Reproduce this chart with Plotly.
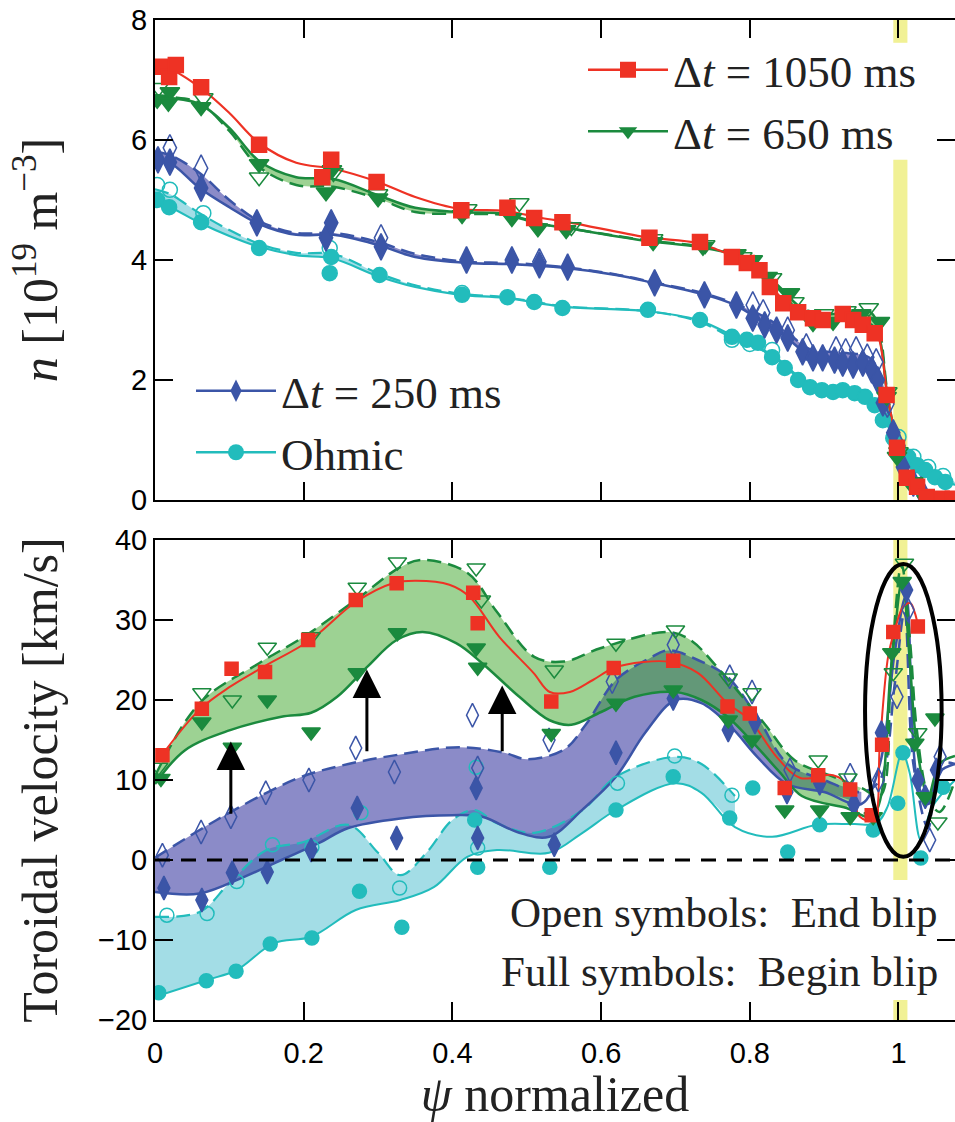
import plotly.graph_objects as go

# ---------------- colours ----------------
RED = "#ee3224"
GREEN = "#1b8a3e"
BLUE = "#3b55a7"
CYAN = "#22bcbc"
GREEN_FILL = "rgba(60,165,40,0.5)"
BLUE_FILL = "rgba(55,55,160,0.58)"
CYAN_FILL = "rgba(50,180,200,0.45)"

# ================= TOP PANEL: density n [1e19 m^-3] =================
# markers
n_red_x = [0.009, 0.019, 0.028, 0.062, 0.14, 0.225, 0.237, 0.298, 0.412, 0.474, 0.51, 0.548, 0.665, 0.733, 0.776, 0.796, 0.813, 0.827, 0.845, 0.865, 0.885, 0.898, 0.925, 0.939, 0.952, 0.968, 0.984, 0.998, 1.011, 1.025, 1.038, 1.058, 1.073]
n_red_y = [7.22, 7.05, 7.25, 6.88, 5.92, 5.38, 5.67, 5.3, 4.83, 4.87, 4.7, 4.63, 4.37, 4.3, 4.05, 3.95, 3.83, 3.55, 3.28, 3.13, 3.03, 3.0, 3.1, 3.0, 2.92, 2.78, 1.75, 0.87, 0.37, 0.22, 0.05, 0.02, 0.02]

n_grn_full_x = [0.003, 0.02, 0.018, 0.062, 0.14, 0.23, 0.238, 0.30, 0.413, 0.48, 0.515, 0.553, 0.67, 0.737, 0.782, 0.804, 0.824, 0.854, 0.885, 0.912, 0.95, 0.975, 0.984, 0.998, 1.016, 1.038, 1.052]
n_grn_full_y = [6.67, 6.8, 6.62, 6.55, 5.6, 5.13, 5.5, 5.03, 4.75, 4.7, 4.53, 4.5, 4.3, 4.22, 4.1, 4.0, 3.72, 3.45, 2.95, 2.97, 3.1, 2.97, 1.72, 0.72, 0.28, 0.0, 0.0]
n_grn_open_x = [0.005, 0.065, 0.14, 0.24, 0.30, 0.42, 0.49, 0.56, 0.67, 0.74, 0.79, 0.83, 0.86, 0.9, 0.93, 0.96, 0.985, 1.0, 1.02, 1.04]
n_grn_open_y = [6.87, 6.7, 5.38, 5.45, 5.1, 4.85, 4.95, 4.55, 4.35, 4.25, 4.05, 3.7, 3.3, 3.1, 3.15, 3.2, 1.8, 0.8, 0.3, 0.05]

n_blu_full_x = [0.004, 0.02, 0.062, 0.137, 0.23, 0.237, 0.304, 0.419, 0.48, 0.517, 0.555, 0.672, 0.739, 0.782, 0.804, 0.82, 0.836, 0.851, 0.871, 0.885, 0.898, 0.914, 0.925, 0.939, 0.952, 0.964, 0.972, 0.979, 0.993, 1.006, 1.02, 1.03]
n_blu_full_y = [5.67, 5.63, 5.2, 4.62, 4.37, 4.62, 4.22, 4.0, 4.0, 3.92, 3.88, 3.62, 3.42, 3.25, 3.03, 2.92, 2.83, 2.7, 2.47, 2.37, 2.37, 2.33, 2.28, 2.25, 2.28, 2.17, 2.0, 1.62, 1.12, 0.55, 0.28, 0.17]
n_blu_open_x = [0.02, 0.062, 0.304, 0.517, 0.804, 0.818, 0.851, 0.876, 0.916, 0.929, 0.943, 0.958, 0.97, 0.985, 1.0]
n_blu_open_y = [5.87, 5.53, 4.37, 3.97, 3.25, 3.12, 2.83, 2.55, 2.5, 2.47, 2.5, 2.38, 2.3, 1.6, 0.9]

n_cyn_full_x = [0.003, 0.019, 0.062, 0.14, 0.237, 0.235, 0.302, 0.413, 0.474, 0.51, 0.548, 0.663, 0.733, 0.776, 0.796, 0.811, 0.83, 0.847, 0.865, 0.881, 0.897, 0.912, 0.925, 0.941, 0.955, 0.968, 0.979, 0.993, 0.998, 1.013, 1.025, 1.036, 1.049, 1.063]
n_cyn_full_y = [5.0, 4.88, 4.63, 4.2, 4.05, 3.78, 3.75, 3.42, 3.38, 3.3, 3.2, 3.17, 3.0, 2.72, 2.67, 2.62, 2.38, 2.2, 2.0, 1.88, 1.83, 1.8, 1.83, 1.78, 1.72, 1.58, 1.33, 1.03, 0.92, 0.72, 0.58, 0.5, 0.38, 0.3]
n_cyn_open_x = [0.003, 0.02, 0.065, 0.235, 0.413, 0.776, 0.8, 0.83, 1.0, 1.02, 1.04, 1.06]
n_cyn_open_y = [5.25, 5.17, 4.78, 4.2, 3.45, 2.67, 2.6, 2.5, 1.05, 0.72, 0.55, 0.4]

# fitted profiles (top)
n_red_fit_x = [0.0, 0.02, 0.06, 0.1, 0.14, 0.19, 0.24, 0.3, 0.35, 0.41, 0.47, 0.52, 0.56, 0.66, 0.73, 0.78, 0.81, 0.84, 0.87, 0.9, 0.93, 0.96, 0.972, 0.985, 1.0, 1.012, 1.025, 1.04, 1.076]
n_red_fit_y = [7.2, 7.18, 6.88, 6.45, 5.95, 5.62, 5.52, 5.3, 5.05, 4.85, 4.82, 4.7, 4.62, 4.38, 4.28, 4.05, 3.85, 3.4, 3.1, 3.0, 3.05, 2.9, 2.75, 1.75, 0.85, 0.37, 0.2, 0.05, 0.0]

n_grn_fit_x = [0.0, 0.02, 0.06, 0.1, 0.14, 0.19, 0.24, 0.3, 0.35, 0.41, 0.47, 0.52, 0.56, 0.66, 0.73, 0.78, 0.81, 0.84, 0.87, 0.9, 0.93, 0.96, 0.972, 0.985, 1.0, 1.015, 1.03, 1.05, 1.076]
n_grn_fit_full = [6.72, 6.7, 6.6, 6.2, 5.65, 5.38, 5.35, 5.08, 4.87, 4.8, 4.77, 4.6, 4.52, 4.32, 4.22, 4.08, 3.85, 3.5, 3.1, 3.0, 3.02, 2.95, 2.8, 1.75, 0.75, 0.28, 0.05, 0.0, 0.0]
n_grn_fit_open = [6.75, 6.72, 6.62, 6.15, 5.55, 5.25, 5.22, 5.02, 4.8, 4.77, 4.75, 4.6, 4.52, 4.33, 4.23, 4.1, 3.9, 3.55, 3.2, 3.1, 3.12, 3.15, 2.95, 1.8, 0.8, 0.3, 0.07, 0.0, 0.0]

n_blu_fit_x = [0.0, 0.02, 0.06, 0.1, 0.14, 0.19, 0.24, 0.3, 0.35, 0.42, 0.48, 0.55, 0.62, 0.67, 0.74, 0.78, 0.82, 0.85, 0.88, 0.93, 0.96, 0.975, 0.99, 1.005, 1.02, 1.04, 1.076]
n_blu_fit_full = [5.65, 5.62, 5.2, 4.88, 4.6, 4.42, 4.42, 4.25, 4.05, 3.95, 3.93, 3.87, 3.75, 3.62, 3.42, 3.25, 2.95, 2.7, 2.42, 2.3, 2.2, 1.95, 1.2, 0.55, 0.3, 0.12, 0.05]
n_blu_fit_open = [5.8, 5.75, 5.45, 5.0, 4.65, 4.45, 4.45, 4.3, 4.1, 3.97, 3.95, 3.88, 3.76, 3.63, 3.44, 3.27, 3.05, 2.8, 2.52, 2.45, 2.38, 2.1, 1.3, 0.6, 0.32, 0.12, 0.05]

n_cyn_fit_x = [0.0, 0.02, 0.06, 0.1, 0.14, 0.19, 0.24, 0.3, 0.35, 0.41, 0.47, 0.55, 0.66, 0.73, 0.78, 0.83, 0.87, 0.9, 0.95, 0.97, 0.985, 1.0, 1.02, 1.04, 1.06, 1.076]
n_cyn_fit_full = [4.95, 4.88, 4.62, 4.4, 4.22, 4.08, 4.02, 3.73, 3.55, 3.42, 3.37, 3.22, 3.15, 3.0, 2.72, 2.4, 2.0, 1.85, 1.75, 1.6, 1.25, 0.92, 0.65, 0.47, 0.34, 0.25]
n_cyn_fit_open = [5.18, 5.1, 4.78, 4.5, 4.27, 4.12, 4.1, 3.78, 3.58, 3.44, 3.38, 3.23, 3.15, 2.98, 2.68, 2.42, 2.02, 1.86, 1.76, 1.62, 1.3, 1.0, 0.72, 0.55, 0.4, 0.3]

# ================= BOTTOM PANEL: toroidal velocity [km/s] =================
v_red_x = [0.01, 0.063, 0.103, 0.148, 0.206, 0.27, 0.325, 0.428, 0.434, 0.533, 0.617, 0.697, 0.77, 0.8, 0.847, 0.892, 0.935, 0.964, 0.978, 0.993, 1.026]
v_red_y = [13.1, 18.9, 23.9, 23.5, 27.5, 32.5, 34.6, 33.4, 29.6, 19.8, 24.0, 24.9, 19.2, 18.3, 9.0, 10.6, 8.8, 5.6, 14.4, 28.5, 29.2]

v_grn_full_x = [0.008, 0.063, 0.104, 0.151, 0.21, 0.272, 0.326, 0.432, 0.434, 0.533, 0.62, 0.697, 0.771, 0.803, 0.847, 0.894, 0.935, 0.966, 0.991, 1.005, 1.022, 1.036, 1.049]
v_grn_full_y = [10.2, 17.25, 14.1, 20.0, 16.0, 23.4, 28.4, 26.5, 24.1, 15.8, 19.6, 21.25, 17.5, 15.0, 6.25, 6.25, 5.4, 5.4, 25.9, 34.8, 14.6, 7.9, 17.75]
v_grn_open_x = [0.005, 0.063, 0.104, 0.151, 0.21, 0.272, 0.326, 0.432, 0.439, 0.537, 0.62, 0.7, 0.771, 0.803, 0.892, 0.932, 0.993, 1.008, 1.026, 1.053]
v_grn_open_y = [11.6, 20.9, 20.0, 26.6, 27.9, 34.1, 37.25, 36.5, 32.5, 23.75, 27.1, 28.75, 22.75, 20.9, 12.5, 10.25, 23.4, 37.1, 15.9, 4.75]

v_blu_full_x = [0.012, 0.063, 0.104, 0.151, 0.21, 0.272, 0.325, 0.432, 0.434, 0.537, 0.62, 0.697, 0.771, 0.807, 0.85, 0.894, 0.94, 0.977, 1.011, 1.026, 1.036, 1.051]
v_blu_full_y = [-3.5, -5.0, -1.6, -1.5, 1.25, 6.5, 2.75, 9.0, 2.75, 1.9, 13.4, 20.2, 16.25, 17.25, 8.5, 9.6, 7.0, 15.9, 33.75, 10.0, 7.9, 11.25]
v_blu_open_x = [0.01, 0.062, 0.102, 0.149, 0.207, 0.27, 0.322, 0.427, 0.434, 0.53, 0.615, 0.697, 0.773, 0.803, 0.854, 0.935, 0.973, 0.998, 1.013, 1.042, 1.056]
v_blu_open_y = [0.6, 3.5, 5.4, 8.4, 10.0, 14.0, 11.0, 18.1, 11.5, 15.0, 22.3, 26.9, 22.9, 21.0, 11.25, 10.6, 10.0, 20.4, 31.25, 2.5, 12.9]

v_cyn_full_x = [0.005, 0.069, 0.109, 0.155, 0.211, 0.275, 0.332, 0.43, 0.434, 0.531, 0.62, 0.697, 0.773, 0.804, 0.851, 0.894, 0.966, 0.999, 1.006, 1.03, 1.06]
v_cyn_full_y = [-16.6, -15.1, -13.9, -10.5, -9.75, -3.9, -8.4, 5.0, -0.9, -0.9, 6.25, 10.4, 5.25, 9.0, 1.0, 4.4, 3.75, 7.1, 13.4, 0.25, 9.1]
v_cyn_open_x = [0.016, 0.07, 0.11, 0.158, 0.211, 0.277, 0.329, 0.434, 0.432, 0.622, 0.699, 0.776]
v_cyn_open_y = [-6.9, -6.7, -2.7, 1.9, 1.6, 5.9, -3.5, 1.5, 11.6, 9.6, 13.0, 8.1]

# fitted profiles (bottom)
v_red_fit_x = [0.01, 0.06, 0.1, 0.145, 0.209, 0.27, 0.32, 0.351, 0.396, 0.423, 0.463, 0.509, 0.531, 0.558, 0.589, 0.617, 0.657, 0.693, 0.73, 0.77, 0.8, 0.836, 0.868, 0.912, 0.935, 0.948, 0.966, 0.975, 0.986, 0.995, 1.006, 1.016, 1.022, 1.026]
v_red_fit_y = [13.2, 18.8, 21.6, 24.1, 27.5, 32.25, 34.6, 34.9, 34.4, 32.9, 27.9, 23.4, 21.0, 21.0, 22.5, 24.0, 24.75, 24.75, 23.4, 19.6, 17.5, 12.9, 10.25, 10.6, 9.1, 5.4, 5.0, 14.6, 25.4, 28.75, 31.6, 32.1, 30.9, 29.4]

v_grn_open_fit_x = [0.0, 0.06, 0.14, 0.2, 0.27, 0.33, 0.36, 0.42, 0.46, 0.51, 0.55, 0.6, 0.69, 0.72, 0.76, 0.82, 0.86, 0.91, 0.95, 0.975, 0.99, 1.004, 1.015, 1.025, 1.04, 1.055, 1.076]
v_grn_open_fit_y = [10.5, 19.6, 24.6, 27.9, 32.5, 36.6, 37.5, 35.9, 31.0, 25.4, 24.8, 26.5, 28.5, 27.5, 23.7, 17.0, 12.5, 10.5, 9.0, 8.0, 24.0, 37.0, 28.0, 16.0, 8.0, 6.0, 10.0]
v_grn_full_fit_x = [0.0, 0.04, 0.1, 0.17, 0.21, 0.245, 0.285, 0.325, 0.36, 0.405, 0.44, 0.49, 0.53, 0.56, 0.6, 0.645, 0.7, 0.735, 0.77, 0.805, 0.84, 0.87, 0.93, 0.965, 0.99, 1.005, 1.015, 1.025, 1.04, 1.055, 1.076]
v_grn_full_fit_y = [9.5, 13.7, 16.2, 17.9, 18.4, 20.4, 24.1, 27.5, 28.5, 27.1, 24.6, 20.4, 17.5, 16.9, 18.5, 20.4, 21.0, 20.0, 17.9, 14.6, 11.0, 8.0, 6.5, 5.5, 24.0, 35.0, 25.0, 14.0, 8.0, 12.0, 13.0]

v_blu_open_fit_x = [0.0, 0.06, 0.1, 0.15, 0.2, 0.26, 0.33, 0.41, 0.47, 0.5, 0.55, 0.58, 0.62, 0.665, 0.69, 0.73, 0.77, 0.81, 0.85, 0.9, 0.95, 0.975, 0.995, 1.008, 1.02, 1.04, 1.055, 1.076]
v_blu_open_fit_y = [0.3, 3.75, 5.9, 8.4, 10.5, 12.0, 13.2, 14.1, 13.4, 12.6, 13.8, 17.0, 22.5, 25.2, 26.2, 25.0, 22.9, 17.9, 12.1, 10.0, 8.5, 10.0, 22.0, 31.0, 12.0, 4.0, 12.0, 12.0]
v_blu_full_fit_x = [0.0, 0.06, 0.12, 0.17, 0.22, 0.26, 0.33, 0.4, 0.44, 0.49, 0.53, 0.575, 0.62, 0.66, 0.7, 0.735, 0.775, 0.81, 0.85, 0.9, 0.95, 0.975, 0.995, 1.01, 1.025, 1.04, 1.055, 1.076]
v_blu_full_fit_y = [-4.0, -4.2, -2.1, 0.0, 2.1, 4.0, 5.2, 5.6, 5.4, 3.4, 2.9, 6.3, 10.4, 16.0, 20.0, 19.6, 16.6, 12.9, 9.5, 8.5, 7.0, 12.0, 26.0, 33.0, 10.0, 7.0, 11.0, 12.0]

v_cyn_open_fit_x = [0.0, 0.06, 0.1, 0.15, 0.2, 0.26, 0.3, 0.33, 0.365, 0.4, 0.43, 0.46, 0.51, 0.575, 0.62, 0.7, 0.735, 0.78]
v_cyn_open_fit_y = [-7.1, -6.5, -2.9, 1.25, 2.25, 4.4, 0.9, -1.9, 0.9, 5.0, 6.25, 4.6, 3.4, 6.25, 10.4, 12.9, 12.0, 8.0]
v_cyn_full_fit_x = [0.0, 0.07, 0.11, 0.16, 0.21, 0.27, 0.33, 0.375, 0.42, 0.46, 0.53, 0.575, 0.62, 0.7, 0.735, 0.78, 0.83, 0.89, 0.94, 0.97, 0.985, 1.005, 1.015, 1.03, 1.045, 1.076]
v_cyn_full_fit_y = [-17.1, -15.0, -13.75, -10.4, -9.6, -6.25, -5.0, -3.4, 0.4, 1.25, 0.9, 3.4, 6.25, 9.6, 8.4, 4.1, 2.9, 4.4, 4.5, 4.6, 6.6, 13.4, 10.9, 2.5, 6.6, 10.0]

# axis ticks
x_ticks = [0, 0.2, 0.4, 0.6, 0.8, 1]
x_ticklabels = ["0", "0.2", "0.4", "0.6", "0.8", "1"]
n_ticks = [0, 2, 4, 6, 8]
v_ticks = [-20, -10, 0, 10, 20, 30, 40]

SERIF = "Liberation Serif"
SANS = "Liberation Sans"
DASH = "14px,7px"


def upto(xs, ys, xmax):
    pts = [(a, b) for a, b in zip(xs, ys) if a <= xmax]
    return [p[0] for p in pts], [p[1] for p in pts]


fig = go.Figure()


def line(x, y, color, width, xa, ya, dash=None, fill=None, fillcolor=None):
    fig.add_trace(go.Scatter(x=x, y=y, mode="lines", xaxis=xa, yaxis=ya,
                             line=dict(color=color, width=width, shape="spline", smoothing=1.0, dash=dash),
                             fill=fill, fillcolor=fillcolor, showlegend=False, hoverinfo="skip"))


def band(xo, yo, xf, yf, fillcolor, xa, ya, xmax=2.0):
    ax, ay = upto(xo, yo, xmax)
    bx, by = upto(xf, yf, xmax)
    line(ax, ay, "rgba(0,0,0,0)", 0, xa, ya)
    line(bx, by, "rgba(0,0,0,0)", 0, xa, ya, fill="tonexty", fillcolor=fillcolor)


def markers(x, y, symbol, size, color, xa, ya, lw=1.5):
    fig.add_trace(go.Scatter(x=x, y=y, mode="markers", xaxis=xa, yaxis=ya,
                             marker=dict(symbol=symbol, size=size, color=color,
                                         line=dict(color=color, width=lw)),
                             showlegend=False, hoverinfo="skip"))


# ---------- top panel ----------
band(n_cyn_fit_x, n_cyn_fit_open, n_cyn_fit_x, n_cyn_fit_full, CYAN_FILL, "x", "y")
band(n_blu_fit_x, n_blu_fit_open, n_blu_fit_x, n_blu_fit_full, BLUE_FILL, "x", "y")
band(n_grn_fit_x, n_grn_fit_open, n_grn_fit_x, n_grn_fit_full, GREEN_FILL, "x", "y")
line(n_cyn_fit_x, n_cyn_fit_open, CYAN, 2.2, "x", "y", dash=DASH)
line(n_cyn_fit_x, n_cyn_fit_full, CYAN, 2.2, "x", "y")
line(n_blu_fit_x, n_blu_fit_open, BLUE, 2.5, "x", "y", dash=DASH)
line(n_blu_fit_x, n_blu_fit_full, BLUE, 2.5, "x", "y")
line(n_grn_fit_x, n_grn_fit_open, GREEN, 2.5, "x", "y", dash=DASH)
line(n_grn_fit_x, n_grn_fit_full, GREEN, 2.5, "x", "y")
line(n_red_fit_x, n_red_fit_y, RED, 2.2, "x", "y")

markers(n_cyn_open_x, n_cyn_open_y, "circle-open", 15, CYAN, "x", "y")
markers(n_cyn_full_x, n_cyn_full_y, "circle", 15, CYAN, "x", "y")
markers(n_blu_open_x, n_blu_open_y, "diamond-tall-open", 19, BLUE, "x", "y")
markers(n_blu_full_x, n_blu_full_y, "diamond-tall", 19, BLUE, "x", "y")
markers(n_grn_open_x, n_grn_open_y, "triangle-down-open", 17, GREEN, "x", "y")
markers(n_grn_full_x, n_grn_full_y, "triangle-down", 17, GREEN, "x", "y")
markers(n_red_x, n_red_y, "square", 15, RED, "x", "y")

# ---------- bottom panel ----------
band(v_cyn_open_fit_x, v_cyn_open_fit_y, v_cyn_full_fit_x, v_cyn_full_fit_y, CYAN_FILL, "x2", "y2", xmax=0.78)
band(v_blu_open_fit_x, v_blu_open_fit_y, v_blu_full_fit_x, v_blu_full_fit_y, BLUE_FILL, "x2", "y2", xmax=0.95)
band(v_grn_open_fit_x, v_grn_open_fit_y, v_grn_full_fit_x, v_grn_full_fit_y, GREEN_FILL, "x2", "y2", xmax=0.95)
line(v_cyn_open_fit_x, v_cyn_open_fit_y, CYAN, 2.2, "x2", "y2", dash=DASH)
line(v_cyn_full_fit_x, v_cyn_full_fit_y, CYAN, 2.0, "x2", "y2")
line(v_blu_open_fit_x, v_blu_open_fit_y, BLUE, 2.5, "x2", "y2", dash=DASH)
line(v_blu_full_fit_x, v_blu_full_fit_y, BLUE, 2.5, "x2", "y2")
line(v_grn_open_fit_x, v_grn_open_fit_y, GREEN, 2.5, "x2", "y2", dash=DASH)
line(v_grn_full_fit_x, v_grn_full_fit_y, GREEN, 2.5, "x2", "y2")
line(v_red_fit_x, v_red_fit_y, RED, 2.0, "x2", "y2")

markers(v_cyn_open_x, v_cyn_open_y, "circle-open", 14, CYAN, "x2", "y2")
markers(v_cyn_full_x, v_cyn_full_y, "circle", 14, CYAN, "x2", "y2")
markers(v_blu_open_x, v_blu_open_y, "diamond-tall-open", 17, BLUE, "x2", "y2")
markers(v_blu_full_x, v_blu_full_y, "diamond-tall", 17, BLUE, "x2", "y2")
markers(v_grn_open_x, v_grn_open_y, "triangle-down-open", 16, GREEN, "x2", "y2")
markers(v_grn_full_x, v_grn_full_y, "triangle-down", 16, GREEN, "x2", "y2")
markers(v_red_x, v_red_y, "square", 13, RED, "x2", "y2")

# ---------- legend-only traces ----------
legend_items = [
    ("Δ<i>t</i> = 1050 ms", RED, "square", "legend"),
    ("Δ<i>t</i> = 650 ms", GREEN, "triangle-down", "legend"),
    ("Δ<i>t</i> = 250 ms", BLUE, "diamond-tall", "legend2"),
    ("Ohmic", CYAN, "circle", "legend2"),
]
for name, col, sym, lg in legend_items:
    fig.add_trace(go.Scatter(x=[None], y=[None], mode="lines+markers", name=name,
                             xaxis="x", yaxis="y", legend=lg,
                             line=dict(color=col, width=2.5),
                             marker=dict(symbol=sym, size=16, color=col)))

# ---------- axes ----------
axis_common = dict(showline=True, linewidth=2, linecolor="black", mirror="allticks",
                   ticks="inside", ticklen=18, tickwidth=2, tickcolor="black",
                   showgrid=False, zeroline=False, automargin=False,
                   tickfont=dict(family=SANS, size=29, color="black"))

fig.update_layout(
    width=955, height=1122,
    margin=dict(l=155, r=0, t=20, b=102),
    paper_bgcolor="white", plot_bgcolor="white",
    xaxis=dict(domain=[0, 1], range=[0, 1.076], anchor="y", tickvals=x_ticks,
               showticklabels=False, **axis_common),
    yaxis=dict(domain=[0.52, 1], range=[0, 8], anchor="x", tickvals=n_ticks,
               title=dict(text="<i>n</i> [10<sup>19</sup> m<sup>−3</sup>]",
                          font=dict(family=SERIF, size=50, color="#222"), standoff=58),
               **axis_common),
    xaxis2=dict(domain=[0, 1], range=[0, 1.076], anchor="y2", tickvals=x_ticks,
                ticktext=x_ticklabels, ticklabelstandoff=6,
                title=dict(text="<i>ψ</i> normalized",
                           font=dict(family=SERIF, size=50, color="#222"), standoff=10),
                **axis_common),
    yaxis2=dict(domain=[0, 0.48], range=[-20, 40], anchor="x2", tickvals=v_ticks,
                title=dict(text="Toroidal velocity [km/s]",
                           font=dict(family=SERIF, size=50, color="#222"), standoff=24),
                **axis_common),
    legend=dict(x=0.535, y=0.986, xanchor="left", yanchor="top", traceorder="normal",
                font=dict(family=SERIF, size=45, color="#222"),
                bgcolor="rgba(0,0,0,0)", itemwidth=80, tracegroupgap=0),
    legend2=dict(x=0.045, y=0.665, xanchor="left", yanchor="top", traceorder="normal",
                 font=dict(family=SERIF, size=45, color="#222"),
                 bgcolor="rgba(0,0,0,0)", itemwidth=80, tracegroupgap=0),
)

# ---------- shapes ----------
YEL = "rgba(238,238,130,0.85)"
shapes = [
    dict(type="rect", xref="x", yref="y", x0=0.993, x1=1.012, y0=0, y1=5.67,
         fillcolor=YEL, line=dict(width=0), layer="below"),
    dict(type="rect", xref="x", yref="y", x0=0.993, x1=1.012, y0=7.62, y1=8,
         fillcolor=YEL, line=dict(width=0), layer="below"),
    dict(type="rect", xref="x2", yref="y2", x0=0.993, x1=1.012, y0=-2.5, y1=40,
         fillcolor=YEL, line=dict(width=0), layer="below"),
    dict(type="rect", xref="x2", yref="y2", x0=0.993, x1=1.012, y0=-20, y1=-17.5,
         fillcolor=YEL, line=dict(width=0), layer="below"),
    dict(type="line", xref="x2", yref="y2", x0=0, x1=1.076, y0=0, y1=0,
         line=dict(color="black", width=3, dash="15px,11px")),
    dict(type="circle", xref="x2", yref="y2", x0=0.955, x1=1.058, y0=0.4, y1=37.0,
         line=dict(color="black", width=4)),
]
fig.update_layout(shapes=shapes)

# ---------- annotations ----------
ann = []
for xa, y0, y1 in [(0.102, 5.6, 14.8), (0.285, 13.4, 23.8), (0.467, 13.4, 21.8)]:
    ann.append(dict(x=xa, y=y1, ax=xa, ay=y0, xref="x2", yref="y2", axref="x2", ayref="y2",
                    text="", showarrow=True, arrowhead=2, arrowsize=1.9, arrowwidth=3,
                    arrowcolor="black", standoff=0, startstandoff=0))
ann.append(dict(x=1.056, y=-6.6, xref="x2", yref="y2", xanchor="right", yanchor="middle",
                text="Open symbols:  End blip", showarrow=False,
                font=dict(family=SERIF, size=43, color="#222")))
ann.append(dict(x=1.056, y=-13.9, xref="x2", yref="y2", xanchor="right", yanchor="middle",
                text="Full symbols:  Begin blip", showarrow=False,
                font=dict(family=SERIF, size=43, color="#222")))
fig.update_layout(annotations=ann)

fig.write_html("out.html", config={"displayModeBar": False},
               post_script="document.body.style.margin='0';document.body.style.overflow='hidden';")
